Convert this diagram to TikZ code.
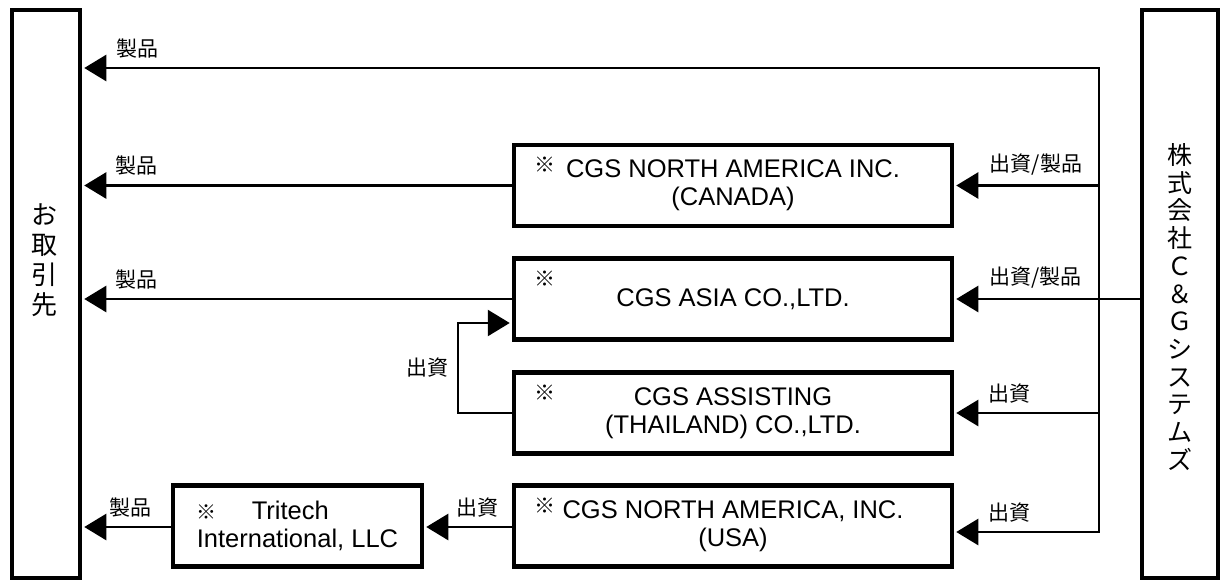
\documentclass[tikz,border=0pt]{standalone}
\usepackage{fontspec}
\setmainfont{Liberation Sans}
\newfontfamily\jp{Noto Sans CJK JP}
\usetikzlibrary{arrows.meta}

\begin{document}
\begin{tikzpicture}[x=1pt,y=-1pt,
  firm/.style={draw,line width=4.5pt,minimum width=438pt,minimum height=81pt,align=center,inner sep=0pt,font=\fontsize{25.5}{28}\selectfont},
  side/.style={draw,line width=4.5pt,minimum height=568pt,inner sep=0pt},
  sidetext/.style={align=center,inner sep=0pt,font=\jp\fontsize{26}{30}\selectfont},
  lbl/.style={font=\jp\fontsize{21}{23}\selectfont,inner sep=0pt},
  kome/.style={label={[lbl,anchor=center,xshift=33pt,yshift=-22pt]north west:※}},
  arr/.style={-{Triangle[length=22pt,width=26pt]},line width=2.5pt,shorten >=2pt},
  line/.style={line width=2.5pt}]
\useasboundingbox (0,0) rectangle (1221,581);
% outer parties
\node[side,minimum width=68pt] (client) at (46,294) {};
\node[sidetext] (clientname) at (44,260) {お\\取\\引\\先};
\node[side,minimum width=76pt] (cg) at (1180,294) {};
\node[sidetext,font=\jp\fontsize{25}{27.7}\selectfont] (cgname) at (1180,307) {株\\式\\会\\社\\Ｃ\\＆\\Ｇ\\シ\\ス\\テ\\ム\\ズ};
% group companies
\node[firm,kome] (canada) at (733,185.5) {CGS NORTH AMERICA INC.\\(CANADA)};
\node[firm,kome] (asia) at (733,299) {CGS ASIA CO.,LTD.};
\node[firm,kome] (thai) at (733,413) {CGS ASSISTING\\(THAILAND) CO.,LTD.};
\node[firm,kome] (usa) at (733,526) {CGS NORTH AMERICA, INC.\\(USA)};
\node[firm,minimum width=249pt,align=left] (tritech) at (297.5,526) {{\jp\fontsize{20}{22}\selectfont ※}\hspace{35pt}Tritech\\International, LLC};
\coordinate (bustop) at (1099,68);
\coordinate (busbot) at (1099,532);
\coordinate (loop) at (458,323);
\coordinate (trirow) at (0,527);
% flows
\draw[arr] (busbot) -- (bustop) -- node[lbl,above=9pt,pos=.946]{製品} (client.east |- bustop);
\draw[arr] (bustop) -- (busbot) -- node[lbl,above=9pt,pos=.62]{出資} (usa.east |- busbot);
\draw[arr] (bustop |- canada.east) -- node[lbl,above=9pt,pos=.435]{出資/製品} (canada.east);
\draw[arr] (cg.west |- asia.east) -- node[lbl,above=9pt,pos=.56]{出資/製品} (asia.east);
\draw[arr] (bustop |- thai.east) -- node[lbl,above=9pt,pos=.62]{出資} (thai.east);
\draw[arr] (canada.west) -- node[lbl,above=9pt,pos=.873]{製品} (client.east |- canada.west);
\draw[arr] (asia.west) -- node[lbl,above=9pt,pos=.873]{製品} (client.east |- asia.west);
\draw[arr] (thai.west) -- (thai.west -| loop) -- node[lbl,left=8pt]{出資} (loop) -- (asia.west |- loop);
\draw[arr] (usa.west |- trirow) -- node[lbl,above=9pt,pos=.39]{出資} (tritech.east |- trirow);
\draw[arr] (tritech.west |- trirow) -- node[lbl,above=9pt,pos=.45]{製品} (client.east |- trirow);
\end{tikzpicture}
\end{document}
